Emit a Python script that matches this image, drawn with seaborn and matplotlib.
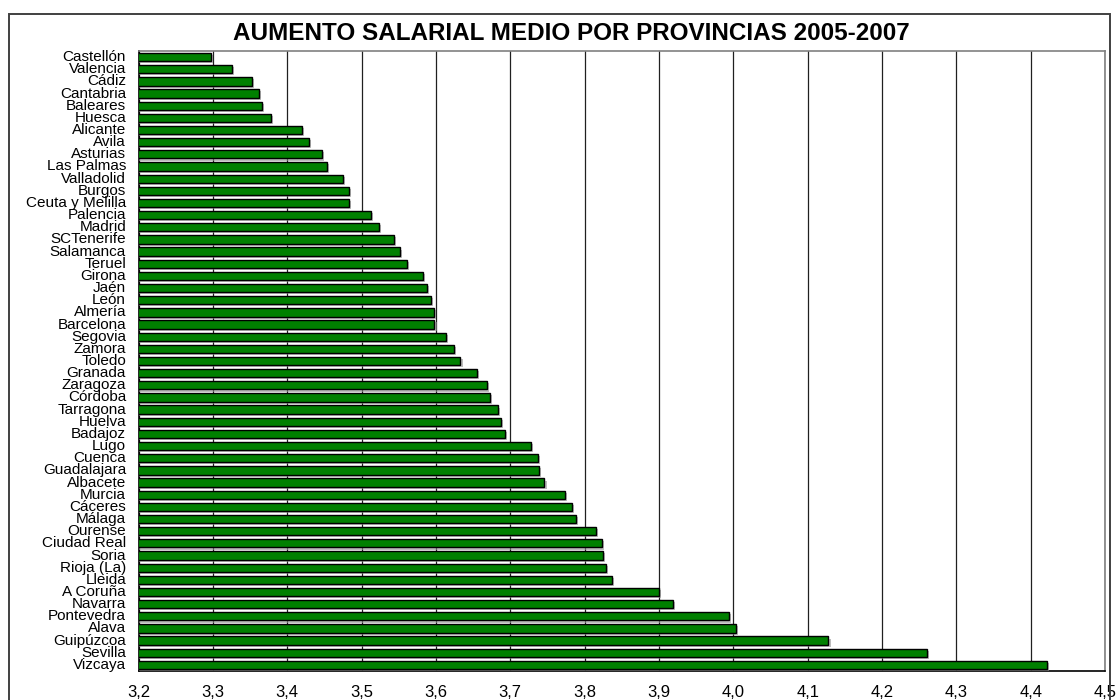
import matplotlib
matplotlib.use("Agg")
import matplotlib.pyplot as plt
import matplotlib.patheffects as pe
import numpy as np
import pandas as pd
import seaborn as sns
from matplotlib.patches import Rectangle

provincias = [
    "Castellón", "Valencia", "Cádiz", "Cantabria", "Baleares", "Huesca",
    "Alicante", "Avila", "Asturias", "Las Palmas", "Valladolid", "Burgos",
    "Ceuta y Melilla", "Palencia", "Madrid", "SCTenerife", "Salamanca",
    "Teruel", "Girona", "Jaén", "León", "Almería", "Barcelona", "Segovia",
    "Zamora", "Toledo", "Granada", "Zaragoza", "Córdoba", "Tarragona",
    "Huelva", "Badajoz", "Lugo", "Cuenca", "Guadalajara", "Albacete",
    "Murcia", "Cáceres", "Málaga", "Ourense", "Ciudad Real", "Soria",
    "Rioja (La)", "Lleida", "A Coruña", "Navarra", "Pontevedra", "Alava",
    "Guipúzcoa", "Sevilla", "Vizcaya",
]
aumento = [
    3.297, 3.326, 3.353, 3.362, 3.366, 3.378,
    3.420, 3.429, 3.447, 3.453, 3.475, 3.483,
    3.483, 3.513, 3.523, 3.544, 3.552,
    3.561, 3.583, 3.588, 3.593, 3.597, 3.598, 3.613,
    3.624, 3.633, 3.655, 3.669, 3.673, 3.684,
    3.687, 3.693, 3.728, 3.737, 3.739, 3.746,
    3.774, 3.783, 3.788, 3.815, 3.823, 3.825,
    3.829, 3.837, 3.900, 3.919, 3.994, 4.004,
    4.128, 4.260, 4.422,
]
xticks = [3.2, 3.3, 3.4, 3.5, 3.6, 3.7, 3.8, 3.9, 4.0, 4.1, 4.2, 4.3, 4.4, 4.5]

df = pd.DataFrame({"provincia": provincias, "aumento": aumento})

sns.set_style("white")
plt.rcParams["font.family"] = ["Liberation Sans", "DejaVu Sans"]
plt.rcParams["text.color"] = "black"
plt.rcParams["xtick.color"] = "black"
plt.rcParams["ytick.color"] = "black"

fig = plt.figure(figsize=(11.17, 7), dpi=100)
ax = fig.add_axes([138.6 / 1117, 1 - 671 / 700, (1105 - 138.6) / 1117, 620 / 700])

sns.barplot(data=df, y="provincia", x="aumento", orient="h", color="#008000",
            saturation=1, edgecolor="black", linewidth=1.0, width=0.68, ax=ax, zorder=3)
# excel-like drop shadow under each bar
for bar in ax.patches:
    bar.set_path_effects([pe.SimplePatchShadow(offset=(1.5, -1.5), shadow_rgbFace="#909090", alpha=0.6),
                          pe.Normal()])

ax.set_xlim(3.2, 4.5)
ax.set_xticks(xticks)
ax.set_xticklabels([f"{t:.1f}".replace(".", ",") for t in xticks], fontsize=12)
ax.set_ylabel("")
ax.set_xlabel("")
ax.tick_params(axis="y", which="major", length=0, labelsize=11, pad=9)
ax.set_yticks(np.arange(len(provincias) + 1) - 0.5, minor=True)
ax.tick_params(axis="y", which="minor", length=3.6, width=1, color="black", direction="out")
ax.tick_params(axis="x", length=3, width=1, color="black", direction="out", pad=7)
for lab in ax.get_yticklabels():
    lab.set_verticalalignment("center")

ax.grid(axis="x", color="#202020", linewidth=0.9, zorder=0)
ax.set_axisbelow(True)
for side in ["left", "bottom"]:
    ax.spines[side].set_color("black")
    ax.spines[side].set_linewidth(1.2)
for side in ["top", "right"]:
    ax.spines[side].set_color("#808080")
    ax.spines[side].set_linewidth(1.2)

fig.text(571 / 1117, 1 - 33 / 700, "AUMENTO SALARIAL MEDIO POR PROVINCIAS 2005-2007",
         ha="center", va="center", fontsize=17.5, fontweight="bold", color="black")

fig.patches.append(Rectangle((8.5 / 1117, -0.05), (1110 - 8.5) / 1117, 1.05 - 13.5 / 700,
                             transform=fig.transFigure, fill=False,
                             edgecolor="#404040", linewidth=1.4))

fig.savefig("out.png", dpi=100)
